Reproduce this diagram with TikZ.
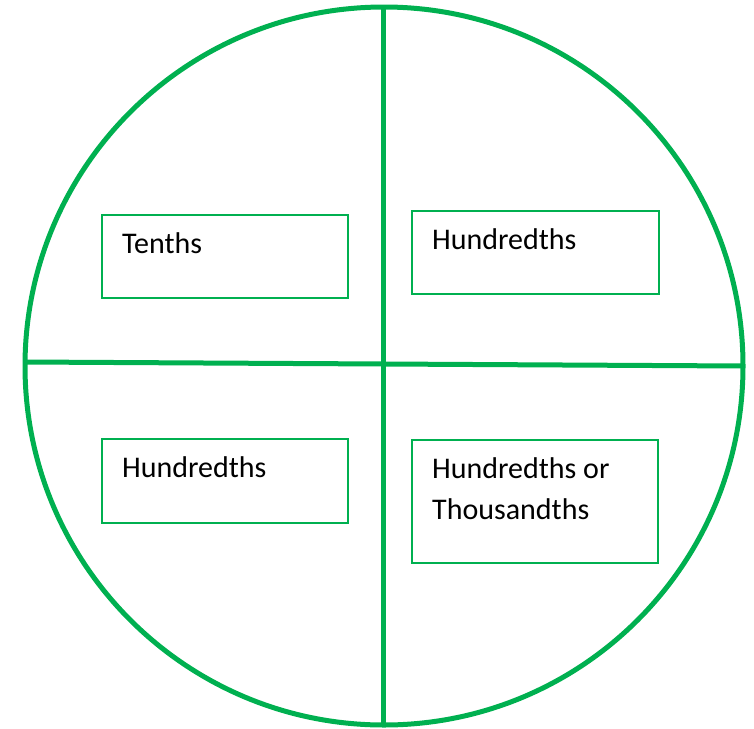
\documentclass[tikz,border=0pt]{standalone}
\usepackage{fontspec}
\setmainfont{Carlito}
\usetikzlibrary{calc}
\definecolor{offgreen}{HTML}{00B050}
\begin{document}
\begin{tikzpicture}[x=1pt,y=-1pt,
  bigline/.style={draw=offgreen,line width=5pt},
  qbox/.style={draw=offgreen,line width=2.2pt,rectangle,anchor=north west,inner sep=0pt},
  qtext/.style={anchor=base west,inner sep=0pt,font=\fontsize{30}{41}\selectfont,align=left}]
\useasboundingbox (0,0) rectangle (754,728);
\node[circle,minimum size=718pt,line width=5pt,draw=offgreen] (c) at (384,366) {};
\coordinate (t) at (383,8);
\coordinate (b) at (383,725);
\coordinate (l) at (25,362);
\coordinate (r) at (743,366);
\draw[bigline] (t) -- (b);
\draw[bigline] (l) -- (r);
\node[qbox,minimum width=246pt,minimum height=83pt] (b1) at (101,214) {};
\node[qbox,minimum width=247pt,minimum height=83pt] (b2) at (411,210) {};
\node[qbox,minimum width=246pt,minimum height=84pt] (b3) at (101,438) {};
\node[qbox,minimum width=246pt,minimum height=123pt] (b4) at (411,439) {};
\node[qtext] (t1) at ($(b1.north west)+(21,39)$) {Tenths};
\node[qtext] (t2) at ($(b2.north west)+(21,39)$) {Hundredths};
\node[qtext] (t3) at ($(b3.north west)+(21,39)$) {Hundredths};
\node[qtext] (t4) at ($(b4.north west)+(21,80)$) {Hundredths or\\Thousandths};
\end{tikzpicture}
\end{document}
